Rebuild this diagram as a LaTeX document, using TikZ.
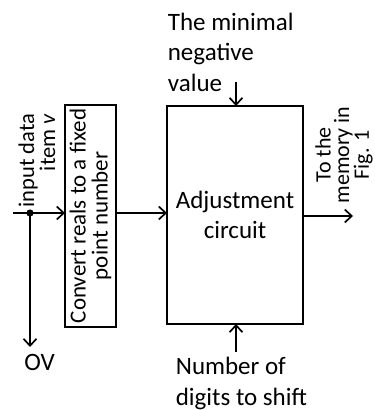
\documentclass[tikz,border=0pt]{standalone}
\usepackage{fontspec}
\setmainfont{Carlito}
\usetikzlibrary{arrows.meta}
\begin{document}
\begin{tikzpicture}[x=1pt,y=1pt,
  line width=1.7pt,
  arr/.style={-{Straight Barb[length=7pt,width=13pt]}},
  box/.style={draw,inner sep=0pt,outer sep=0pt},
  lbl/.style={inner sep=0pt,font=\fontsize{25}{30.5}\selectfont},
  rlbl/.style={inner sep=0pt,rotate=90,align=center}]
\useasboundingbox (0,0) rectangle (375,410);
% boxes
\node[box,rotate=90,minimum width=222pt,minimum height=51pt,align=center,
  font=\fontsize{23}{22}\selectfont] (conv) at (90.5,194) {Convert reals to a fixed\\point number};
\node[box,minimum width=136pt,minimum height=218pt,align=center,
  font=\fontsize{25}{30}\selectfont] (adj) at (235,195) {Adjustment\\circuit};
% input
\coordinate (in) at (13,197);
\coordinate (dot) at (30,197);
\coordinate (ov) at (30,63);
\coordinate (convin) at (conv.north |- in);
\draw[arr] (in) -- (convin);
\fill (dot) circle (3.6pt);
\draw[arr] (dot) -- (ov);
\node[lbl,anchor=north] (ovt) at (39.5,57) {OV};
\node[rlbl,align=right,anchor=east,font=\fontsize{22.5}{21}\selectfont] (intext) at (37,297) {input data\\item \textit{v}};
% conv -> adj
\coordinate (c1) at (conv.south |- 0,197);
\draw[arr] (c1) -- (adj.west |- c1);
% output
\coordinate (o1) at (adj.east |- 0,194);
\coordinate (o2) at (353,194);
\draw[arr] (o1) -- (o2);
\node[rlbl,font=\fontsize{22}{18.5}\selectfont] (outtext) at (344,255) {To the\\memory in\\Fig. 1};
% top
\coordinate (t1) at (236,328);
\draw[arr] (t1) -- (adj.north -| t1);
\node[lbl,anchor=base west,align=left] (toptext) at (167,318.5) {The minimal\\negative\\value};
% bottom
\coordinate (b1) at (236,58);
\draw[arr] (b1) -- (adj.south -| b1);
\node[lbl,anchor=base west,align=left] (bottext) at (175,5) {Number of\\digits to shift};
\end{tikzpicture}
\end{document}
